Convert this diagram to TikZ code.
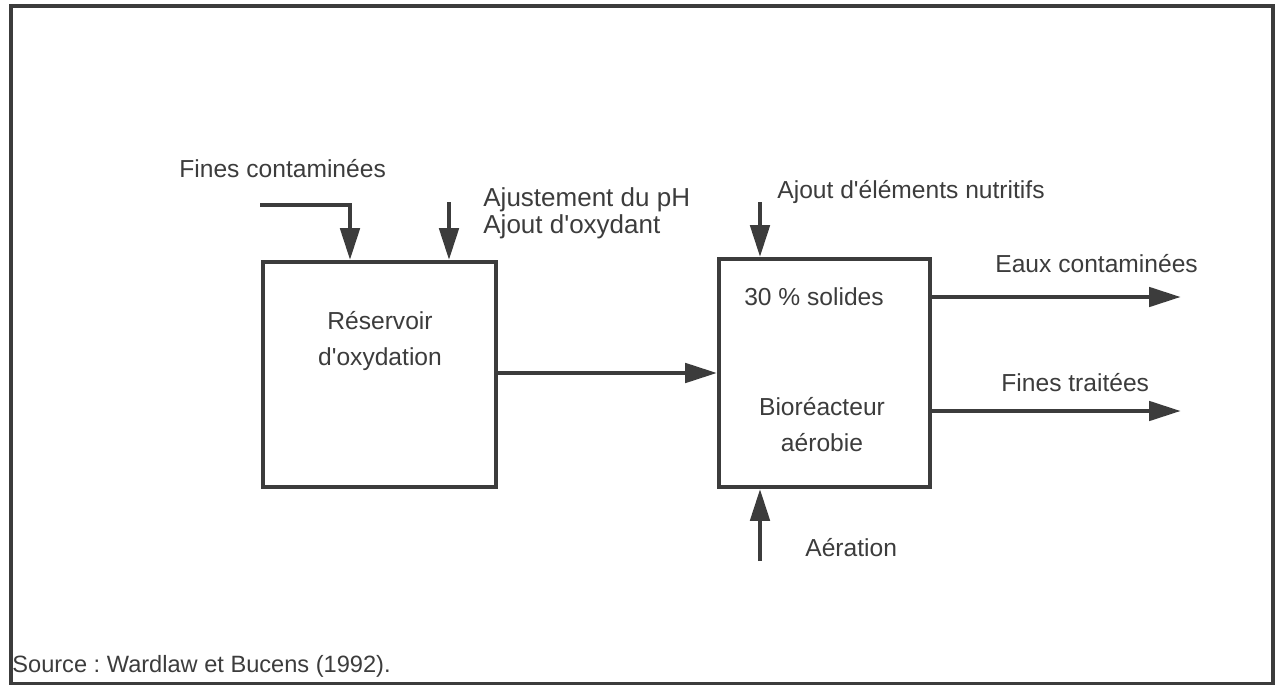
\documentclass[tikz,border=0pt]{standalone}
\usepackage{fontspec}
\setmainfont{Liberation Sans}
\usetikzlibrary{arrows.meta,calc}
\definecolor{ink}{HTML}{3C3C3C}
\newcommand{\apos}{\textquotesingle}
\tikzset{
  box/.style={draw=ink, line width=1.8pt, minimum width=#1},
  flow/.style={draw=ink, line width=2.4pt, -{Triangle[length=16pt,width=9.5pt]}},
  lbl/.style={text=ink, font=\fontsize{12.3}{15}\selectfont, inner sep=0pt, anchor=base west},
  ctr/.style={text=ink, font=\fontsize{12.3}{15}\selectfont, inner sep=0pt, align=center},
}
\frenchspacing
\begin{document}
\begin{tikzpicture}[x=0.5pt,y=-0.5pt]
\useasboundingbox (0,0) rectangle (1276,685);
\node[draw=ink, line width=2pt, minimum width=631pt, minimum height=339pt, inner sep=0pt] (frame) at (642,345) {};
% boxes
\node[box=116.5pt, minimum height=112.5pt] (res) at (379.5,374.5) {};
\node[box=105.5pt, minimum height=114pt] (bio) at (824.5,373) {};
% box texts
\node[ctr] (restxt) at (380,341) {Réservoir\\[3pt]d\apos oxydation};
\node[ctr] (sol) at (814,297) {30 \% solides};
\node[ctr] (biotxt) at (822,425) {Bioréacteur\\[3pt]aérobie};
% labels
\node[lbl] (lfc) at (179,177) {Fines contaminées};
\node[lbl, font=\fontsize{13}{15}\selectfont] (lph) at (483,206) {Ajustement du pH};
\node[lbl, font=\fontsize{13}{15}\selectfont] (lox) at (483,233) {Ajout d\apos oxydant};
\node[lbl] (lnut) at (777,198) {Ajout d\apos éléments nutritifs};
\node[lbl] (leaux) at (995,272) {Eaux contaminées};
\node[lbl] (lft) at (1001,391) {Fines traitées};
\node[lbl] (laer) at (805,556) {Aération};
\node[lbl, font=\fontsize{11.8}{14}\selectfont] (src) at (12,672) {Source : Wardlaw et Bucens (1992).};
% connector endpoints
\coordinate (fcs) at (260,205);
\coordinate (phs) at (449,202);
\coordinate (nuts) at (760,202);
\coordinate (aers) at (760,561);
\coordinate (eauxe) at (1181,297);
\coordinate (fte) at (1181,411);
% connectors
\draw[flow] (fcs) -| (res.north -| 350,0);
\draw[flow] (phs) -- (phs |- res.north);
\draw[flow] (res.east |- 0,373) -- (bio.west |- 0,373);
\draw[flow] (nuts) -- (nuts |- bio.north);
\draw[flow] (aers) -- (aers |- bio.south);
\draw[flow] (bio.east |- eauxe) -- (eauxe);
\draw[flow] (bio.east |- fte) -- (fte);
\end{tikzpicture}
\end{document}
